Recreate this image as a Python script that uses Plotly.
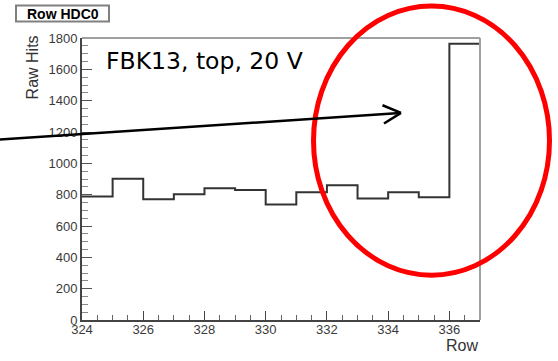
import plotly.graph_objects as go

# ---- data ----
rows = [324, 325, 326, 327, 328, 329, 330, 331, 332, 333, 334, 335, 336]
raw_hits = [788, 902, 771, 803, 841, 830, 738, 816, 860, 775, 816, 784, 1763]
x_tick_vals = [324, 326, 328, 330, 332, 334, 336]
y_tick_vals = [0, 200, 400, 600, 800, 1000, 1200, 1400, 1600, 1800]

# ---- layout geometry (pixels) ----
W, H = 558, 361
L, R, T, B = 82, 78, 37.5, 40.5
PW, PH = W - L - R, H - T - B


def px(xp):
    return (xp - L) / PW


def py(yp):
    return (H - B - yp) / PH


edges = rows + [rows[-1] + 1]
steps = raw_hits + [raw_hits[-1]]

fig = go.Figure()
fig.add_trace(go.Scatter(
    x=edges, y=steps, mode="lines", line_shape="hv",
    line=dict(color="#333333", width=2), showlegend=False, hoverinfo="skip",
))

tickfont = dict(family="Liberation Sans, Arial, sans-serif", size=13, color="#3a3a3a")

fig.update_layout(
    width=W, height=H,
    margin=dict(l=L, r=R, t=T, b=B, pad=0),
    paper_bgcolor="white", plot_bgcolor="white",
    xaxis=dict(
        range=[rows[0], rows[-1] + 1], tickvals=x_tick_vals,
        ticks="inside", ticklen=9, tickwidth=1, tickcolor="#444",
        minor=dict(dtick=0.5, ticks="inside", ticklen=5, tickcolor="#666", tickwidth=1, showgrid=False),
        showgrid=False, zeroline=False, showline=True, linecolor="#444", linewidth=2,
        tickfont=tickfont, ticklabelstandoff=-4,
    ),
    yaxis=dict(
        range=[0, 1800], tickvals=y_tick_vals,
        ticks="inside", ticklen=10, tickwidth=1, tickcolor="#555",
        minor=dict(dtick=50, ticks="inside", ticklen=6, tickcolor="#888", tickwidth=1, showgrid=False),
        showgrid=False, zeroline=False, showline=True, linecolor="#444", linewidth=2,
        tickfont=tickfont,
    ),
)

shapes = [
    # frame top / right (light gray)
    dict(type="line", xref="paper", yref="paper", x0=0, x1=1, y0=1, y1=1,
         line=dict(color="#a0a0a0", width=2)),
    dict(type="line", xref="paper", yref="paper", x0=1, x1=1, y0=0, y1=1,
         line=dict(color="#a0a0a0", width=2)),
    # title box
    dict(type="rect", xref="paper", yref="paper", x0=px(16), x1=px(109), y0=py(21), y1=py(5),
         fillcolor="white", line=dict(color="#808080", width=2)),
    # red ellipse
    dict(type="circle", xref="paper", yref="paper", x0=px(313.5), x1=px(549.5), y0=py(275.5), y1=py(5.5),
         line=dict(color="#ff0000", width=5)),
    # arrow shaft and open head
    dict(type="line", xref="paper", yref="paper", x0=px(-2), y0=py(139.5), x1=px(400), y1=py(112.7),
         line=dict(color="black", width=2.5)),
    dict(type="line", xref="paper", yref="paper", x0=px(382.5), y0=py(105), x1=px(401), y1=py(112.7),
         line=dict(color="black", width=2.5)),
    dict(type="line", xref="paper", yref="paper", x0=px(384), y0=py(123.3), x1=px(401), y1=py(112.7),
         line=dict(color="black", width=2.5)),
]
fig.update_layout(shapes=shapes)

fig.add_annotation(text="<b>Row HDC0</b>", xref="paper", yref="paper", x=px(62.5), y=py(13),
                   xanchor="center", yanchor="middle", showarrow=False,
                   font=dict(family="Liberation Sans, Arial, sans-serif", size=14, color="black"))
fig.add_annotation(text="Raw Hits", xref="paper", yref="paper", x=px(32.5), y=py(67.5),
                   xanchor="center", yanchor="middle", textangle=-90, showarrow=False,
                   font=dict(family="Liberation Sans, Arial, sans-serif", size=16, color="#333"))
fig.add_annotation(text="Row", xref="paper", yref="paper", x=1, y=py(346),
                   xanchor="right", yanchor="middle", showarrow=False,
                   font=dict(family="Liberation Sans, Arial, sans-serif", size=16, color="#333"))
fig.add_annotation(text="FBK13, top, 20 V", xref="paper", yref="paper", x=px(104), y=py(61),
                   xanchor="left", yanchor="middle", showarrow=False,
                   font=dict(family="DejaVu Sans, sans-serif", size=23.5, color="black"))

fig.write_html("out.html", config={"displayModeBar": False},
               post_script="document.body.style.margin='0px';document.body.style.overflow='hidden';")
